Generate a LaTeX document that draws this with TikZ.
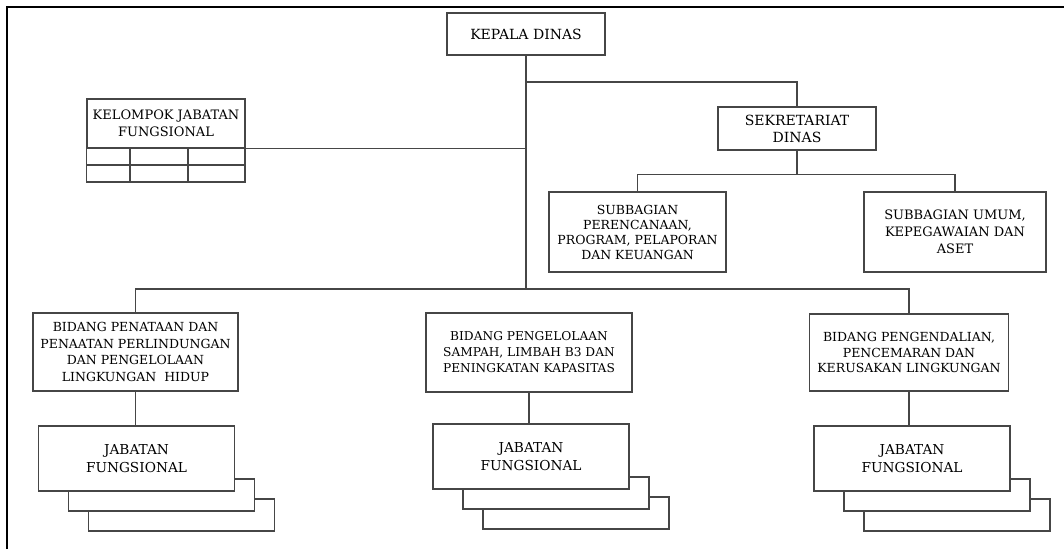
\documentclass[tikz,border=0pt]{standalone}
\usepackage{fontspec}
\setmainfont{DejaVu Serif}
\usepackage{tikz}
\definecolor{Rule}{RGB}{70,70,70}
\newcommand{\JabStack}[3]{% name x y
\draw[unit] (#2-48,#3+40.5) rectangle (#2+138,#3+72.5);
\draw[unit] (#2-68,#3+20.5) rectangle (#2+118,#3+52.5);
\node[unit,minimum width=196pt,minimum height=65pt,font=\fontsize{13.7}{17.7}\selectfont] (#1) at (#2,#3) {JABATAN\\FUNGSIONAL};
}

\begin{document}
\begin{tikzpicture}[x=1pt,y=-1pt,
  unit/.style={draw=Rule,line width=1.1pt,fill=white,align=center,inner sep=0pt,
    font=\fontsize{12.5}{16}\selectfont},
  conn/.style={draw=Rule,line width=1.1pt}]
\useasboundingbox (0,0) rectangle (1064,549);
% page edge
\draw[line width=2.6pt] (7,549) -- (7,7) -- (1064,7);

\node[unit,minimum width=158pt,minimum height=42pt,font=\fontsize{14}{17}\selectfont] (kepala) at (526,34) {KEPALA DINAS};
\node[unit,minimum width=158pt,minimum height=43pt,font=\fontsize{14}{17}\selectfont] (sekre) at (797,128.5) {SEKRETARIAT\\DINAS};
\node[unit,minimum width=177pt,minimum height=80pt,font=\fontsize{12.5}{15}\selectfont] (subA) at (637.5,232)
  {SUBBAGIAN\\PERENCANAAN,\\PROGRAM, PELAPORAN\\DAN KEUANGAN};
\node[unit,minimum width=182pt,minimum height=80pt,font=\fontsize{13}{17}\selectfont] (subB) at (955,232)
  {SUBBAGIAN UMUM,\\KEPEGAWAIAN DAN\\ASET};

% kelompok jabatan fungsional with its grid
\node[unit,minimum width=158pt,minimum height=49pt,font=\fontsize{13}{16.7}\selectfont] (kel) at (166,123.5) {KELOMPOK JABATAN\\FUNGSIONAL};
\draw[conn] (kel.south west) rectangle (245,182);
\draw[conn] (87,165) -- (245,165);
\foreach \gx in {130,188}
  \draw[conn] (\gx,148) -- (\gx,182);

\node[unit,minimum width=205pt,minimum height=78pt,font=\fontsize{12.5}{16.7}\selectfont] (bidA) at (135.5,352)
  {BIDANG PENATAAN DAN\\PENAATAN PERLINDUNGAN\\DAN PENGELOLAAN\\LINGKUNGAN\ \ HIDUP};
\node[unit,minimum width=206pt,minimum height=79pt,font=\fontsize{12.2}{16}\selectfont] (bidB) at (529,352.5)
  {BIDANG PENGELOLAAN\\SAMPAH, LIMBAH B3 DAN\\PENINGKATAN KAPASITAS};
\node[unit,minimum width=199pt,minimum height=77pt,font=\fontsize{12.5}{15.5}\selectfont] (bidC) at (909,352.5)
  {BIDANG PENGENDALIAN,\\PENCEMARAN DAN\\KERUSAKAN LINGKUNGAN};

\JabStack{jabA}{136.5}{458.5}
\JabStack{jabB}{531}{456.5}
\JabStack{jabC}{912}{458.5}

% lines
\coordinate (bus) at (525,289);
\coordinate (jsek) at (525,82);
\draw[conn] (kepala.south) -- (kepala.south |- bus);
\draw[conn] (jsek) -| (sekre.north);
\draw[conn] (sekre.south) -- ++(0,24) coordinate (jsub);
\draw[conn] (subA.north) |- (jsub) -| (subB.north);
\draw[conn] (kel.south east) -- (kel.south east -| kepala.south);
\draw[conn] (bidA.north) |- (bus) -| (bidC.north);
\draw[conn] (bidA.south) -- (bidA.south |- jabA.north);
\draw[conn] (bidB.south) -- (bidB.south |- jabB.north);
\draw[conn] (bidC.south) -- (bidC.south |- jabC.north);
\end{tikzpicture}
\end{document}
